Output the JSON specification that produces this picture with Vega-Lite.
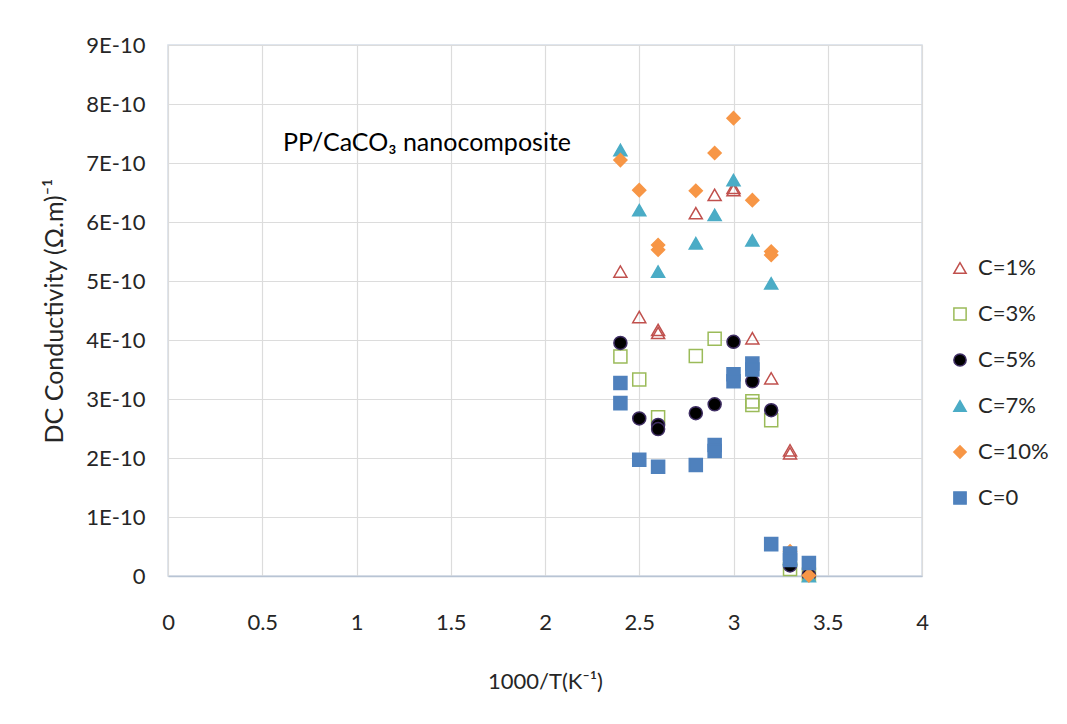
{
  "$schema": "https://vega.github.io/schema/vega-lite/v6.json",
  "width": 754,
  "height": 531,
  "autosize": {"type": "none"},
  "padding": {"left": 168, "top": 45, "right": 145, "bottom": 148},
  "background": "white",
  "config": {
    "font": "Lato",
    "view": {"stroke": "#d5dde8", "strokeWidth": 1.5}
  },
  "datasets": {
    "points": [
      {"series": "C=1%", "x": 2.4, "y": 5.16e-10},
      {"series": "C=1%", "x": 2.5, "y": 4.39e-10},
      {"series": "C=1%", "x": 2.6, "y": 4.17e-10},
      {"series": "C=1%", "x": 2.6, "y": 4.12e-10},
      {"series": "C=1%", "x": 2.8, "y": 6.15e-10},
      {"series": "C=1%", "x": 2.9, "y": 6.46e-10},
      {"series": "C=1%", "x": 3.0, "y": 6.58e-10},
      {"series": "C=1%", "x": 3.0, "y": 6.54e-10},
      {"series": "C=1%", "x": 3.1, "y": 4.03e-10},
      {"series": "C=1%", "x": 3.2, "y": 3.35e-10},
      {"series": "C=1%", "x": 3.3, "y": 2.13e-10},
      {"series": "C=1%", "x": 3.3, "y": 2.08e-10},
      {"series": "C=3%", "x": 2.4, "y": 3.72e-10},
      {"series": "C=3%", "x": 2.5, "y": 3.33e-10},
      {"series": "C=3%", "x": 2.6, "y": 2.69e-10},
      {"series": "C=3%", "x": 2.8, "y": 3.73e-10},
      {"series": "C=3%", "x": 2.9, "y": 4.02e-10},
      {"series": "C=3%", "x": 3.1, "y": 2.96e-10},
      {"series": "C=3%", "x": 3.1, "y": 2.9e-10},
      {"series": "C=3%", "x": 3.2, "y": 2.64e-10},
      {"series": "C=3%", "x": 3.3, "y": 0.12e-10},
      {"series": "C=3%", "x": 3.4, "y": 0.02e-10},
      {"series": "C=5%", "x": 2.4, "y": 3.95e-10},
      {"series": "C=5%", "x": 2.5, "y": 2.67e-10},
      {"series": "C=5%", "x": 2.6, "y": 2.56e-10},
      {"series": "C=5%", "x": 2.6, "y": 2.49e-10},
      {"series": "C=5%", "x": 2.8, "y": 2.76e-10},
      {"series": "C=5%", "x": 2.9, "y": 2.91e-10},
      {"series": "C=5%", "x": 3.0, "y": 3.97e-10},
      {"series": "C=5%", "x": 3.1, "y": 3.3e-10},
      {"series": "C=5%", "x": 3.2, "y": 2.81e-10},
      {"series": "C=5%", "x": 3.3, "y": 0.18e-10},
      {"series": "C=5%", "x": 3.4, "y": 0.02e-10},
      {"series": "C=7%", "x": 2.4, "y": 7.22e-10},
      {"series": "C=7%", "x": 2.5, "y": 6.2e-10},
      {"series": "C=7%", "x": 2.6, "y": 5.16e-10},
      {"series": "C=7%", "x": 2.8, "y": 5.64e-10},
      {"series": "C=7%", "x": 2.9, "y": 6.12e-10},
      {"series": "C=7%", "x": 3.0, "y": 6.71e-10},
      {"series": "C=7%", "x": 3.1, "y": 5.69e-10},
      {"series": "C=7%", "x": 3.2, "y": 4.96e-10},
      {"series": "C=7%", "x": 3.3, "y": 0.3e-10},
      {"series": "C=7%", "x": 3.4, "y": 0.0},
      {"series": "C=10%", "x": 2.4, "y": 7.05e-10},
      {"series": "C=10%", "x": 2.5, "y": 6.54e-10},
      {"series": "C=10%", "x": 2.6, "y": 5.61e-10},
      {"series": "C=10%", "x": 2.6, "y": 5.53e-10},
      {"series": "C=10%", "x": 2.8, "y": 6.53e-10},
      {"series": "C=10%", "x": 2.9, "y": 7.17e-10},
      {"series": "C=10%", "x": 3.0, "y": 7.76e-10},
      {"series": "C=10%", "x": 3.1, "y": 6.37e-10},
      {"series": "C=10%", "x": 3.2, "y": 5.5e-10},
      {"series": "C=10%", "x": 3.2, "y": 5.44e-10},
      {"series": "C=10%", "x": 3.3, "y": 0.42e-10},
      {"series": "C=10%", "x": 3.4, "y": 0.01e-10},
      {"series": "C=0", "x": 2.4, "y": 3.27e-10},
      {"series": "C=0", "x": 2.4, "y": 2.93e-10},
      {"series": "C=0", "x": 2.5, "y": 1.97e-10},
      {"series": "C=0", "x": 2.6, "y": 1.85e-10},
      {"series": "C=0", "x": 2.8, "y": 1.88e-10},
      {"series": "C=0", "x": 2.9, "y": 2.22e-10},
      {"series": "C=0", "x": 2.9, "y": 2.12e-10},
      {"series": "C=0", "x": 3.0, "y": 3.42e-10},
      {"series": "C=0", "x": 3.0, "y": 3.3e-10},
      {"series": "C=0", "x": 3.1, "y": 3.6e-10},
      {"series": "C=0", "x": 3.1, "y": 3.5e-10},
      {"series": "C=0", "x": 3.2, "y": 0.54e-10},
      {"series": "C=0", "x": 3.3, "y": 0.38e-10},
      {"series": "C=0", "x": 3.3, "y": 0.27e-10},
      {"series": "C=0", "x": 3.4, "y": 0.22e-10}
    ],
    "note": [
      {"label": "PP/CaCO₃ nanocomposite", "x": 0.61, "y": 7.34e-10}
    ]
  },
  "layer": [
    {
      "data": {"name": "points"},
      "mark": {"type": "point", "size": 170, "strokeWidth": 1.5, "opacity": 1},
      "encoding": {
        "x": {
          "field": "x",
          "type": "quantitative",
          "title": "1000/T(K⁻¹)",
          "scale": {"domain": [0, 4], "nice": false, "zero": false},
          "axis": {
            "values": [0, 0.5, 1, 1.5, 2, 2.5, 3, 3.5, 4],
            "format": "~g",
            "grid": true,
            "gridColor": "#dcdcdc",
            "gridWidth": 1.2,
            "ticks": false,
            "tickSize": 0,
            "domain": true,
            "domainColor": "#b8c4d4",
            "domainWidth": 1.5,
            "labelFontSize": 22,
            "labelPadding": 36,
            "labelColor": "#262626",
            "labelFlush": false,
            "titleFontSize": 22,
            "titleFontWeight": "normal",
            "titleColor": "#262626",
            "titlePadding": 38
          }
        },
        "y": {
          "field": "y",
          "type": "quantitative",
          "title": "DC Conductivity (Ω.m)⁻¹",
          "scale": {"domain": [0, 9e-10], "nice": false, "zero": false},
          "axis": {
            "values": [0, 1e-10, 2e-10, 3e-10, 4e-10, 5e-10, 6e-10, 7e-10, 8e-10, 9e-10],
            "labelExpr": "datum.value === 0 ? '0' : upper(format(datum.value, '.0e'))",
            "grid": true,
            "gridColor": "#dcdcdc",
            "gridWidth": 1.2,
            "ticks": false,
            "tickSize": 0,
            "domain": false,
            "labelFontSize": 22,
            "labelPadding": 23,
            "labelColor": "#262626",
            "labelFlush": false,
            "titleFontSize": 25,
            "titleFontWeight": "normal",
            "titleColor": "#262626",
            "titlePadding": 18
          }
        },
        "shape": {
          "field": "series",
          "type": "nominal",
          "title": null,
          "scale": {
            "domain": ["C=1%", "C=3%", "C=5%", "C=7%", "C=10%", "C=0"],
            "range": ["triangle-up", "square", "circle", "triangle-up", "diamond", "square"]
          },
          "legend": {
            "orient": "none",
            "legendX": 781,
            "legendY": 212,
            "padding": 0,
            "labelFontSize": 22,
            "labelColor": "#262626",
            "labelOffset": 7,
            "rowPadding": 24,
            "symbolSize": 150,
            "symbolStrokeWidth": 1.5
          }
        },
        "fill": {
          "field": "series",
          "type": "nominal",
          "title": null,
          "scale": {
            "domain": ["C=1%", "C=3%", "C=5%", "C=7%", "C=10%", "C=0"],
            "range": ["transparent", "transparent", "#000000", "#4BACC6", "#F79646", "#4F81BD"]
          }
        },
        "stroke": {
          "field": "series",
          "type": "nominal",
          "title": null,
          "scale": {
            "domain": ["C=1%", "C=3%", "C=5%", "C=7%", "C=10%", "C=0"],
            "range": ["#C0504D", "#9BBB59", "#3f2e63", "#4BACC6", "#F79646", "#4F81BD"]
          }
        }
      }
    },
    {
      "data": {"name": "note"},
      "mark": {"type": "text", "align": "left", "baseline": "middle", "fontSize": 25, "color": "#000000"},
      "encoding": {
        "x": {"field": "x", "type": "quantitative"},
        "y": {"field": "y", "type": "quantitative"},
        "text": {"field": "label", "type": "nominal"}
      }
    }
  ]
}
